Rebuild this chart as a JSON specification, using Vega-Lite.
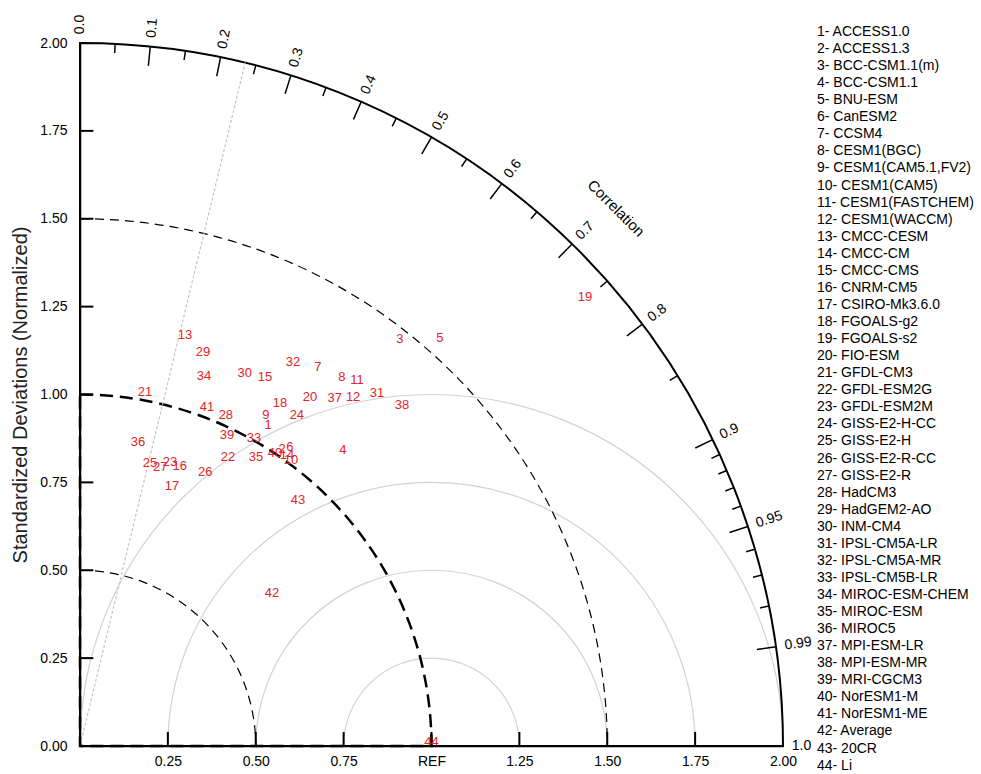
{
  "$schema": "https://vega.github.io/schema/vega-lite/v6.json",
  "width": 703,
  "height": 703,
  "autosize": "none",
  "padding": {"left": 80, "top": 43, "right": 198, "bottom": 28},
  "config": {"view": {"stroke": null}, "font": "Liberation Sans"},
  "datasets": {
    "models": [
      {"id": 1, "legend": "1- ACCESS1.0", "x": 0.535, "y": 0.913},
      {"id": 2, "legend": "2- ACCESS1.3", "x": 0.575, "y": 0.845},
      {"id": 3, "legend": "3- BCC-CSM1.1(m)", "x": 0.910, "y": 1.158},
      {"id": 4, "legend": "4- BCC-CSM1.1", "x": 0.748, "y": 0.842},
      {"id": 5, "legend": "5- BNU-ESM", "x": 1.024, "y": 1.161},
      {"id": 6, "legend": "6- CanESM2", "x": 0.597, "y": 0.851},
      {"id": 7, "legend": "7- CCSM4", "x": 0.677, "y": 1.078},
      {"id": 8, "legend": "8- CESM1(BGC)", "x": 0.745, "y": 1.050},
      {"id": 9, "legend": "9- CESM1(CAM5.1,FV2)", "x": 0.529, "y": 0.942},
      {"id": 10, "legend": "10- CESM1(CAM5)", "x": 0.600, "y": 0.814},
      {"id": 11, "legend": "11- CESM1(FASTCHEM)", "x": 0.788, "y": 1.041},
      {"id": 12, "legend": "12- CESM1(WACCM)", "x": 0.777, "y": 0.993},
      {"id": 13, "legend": "13- CMCC-CESM", "x": 0.299, "y": 1.169},
      {"id": 14, "legend": "14- CMCC-CM", "x": 0.589, "y": 0.828},
      {"id": 15, "legend": "15- CMCC-CMS", "x": 0.526, "y": 1.050},
      {"id": 16, "legend": "16- CNRM-CM5", "x": 0.284, "y": 0.797},
      {"id": 17, "legend": "17- CSIRO-Mk3.6.0", "x": 0.262, "y": 0.740},
      {"id": 18, "legend": "18- FGOALS-g2", "x": 0.569, "y": 0.976},
      {"id": 19, "legend": "19- FGOALS-s2", "x": 1.437, "y": 1.277},
      {"id": 20, "legend": "20- FIO-ESM", "x": 0.654, "y": 0.993},
      {"id": 21, "legend": "21- GFDL-CM3", "x": 0.185, "y": 1.007},
      {"id": 22, "legend": "22- GFDL-ESM2G", "x": 0.421, "y": 0.822},
      {"id": 23, "legend": "23- GFDL-ESM2M", "x": 0.256, "y": 0.808},
      {"id": 24, "legend": "24- GISS-E2-H-CC", "x": 0.617, "y": 0.942},
      {"id": 25, "legend": "25- GISS-E2-H", "x": 0.199, "y": 0.805},
      {"id": 26, "legend": "26- GISS-E2-R-CC", "x": 0.356, "y": 0.780},
      {"id": 27, "legend": "27- GISS-E2-R", "x": 0.228, "y": 0.794},
      {"id": 28, "legend": "28- HadCM3", "x": 0.415, "y": 0.942},
      {"id": 29, "legend": "29- HadGEM2-AO", "x": 0.350, "y": 1.121},
      {"id": 30, "legend": "30- INM-CM4", "x": 0.469, "y": 1.061},
      {"id": 31, "legend": "31- IPSL-CM5A-LR", "x": 0.845, "y": 1.004},
      {"id": 32, "legend": "32- IPSL-CM5A-MR", "x": 0.606, "y": 1.092},
      {"id": 33, "legend": "33- IPSL-CM5B-LR", "x": 0.495, "y": 0.876},
      {"id": 34, "legend": "34- MIROC-ESM-CHEM", "x": 0.353, "y": 1.053},
      {"id": 35, "legend": "35- MIROC-ESM", "x": 0.501, "y": 0.822},
      {"id": 36, "legend": "36- MIROC5", "x": 0.165, "y": 0.865},
      {"id": 37, "legend": "37- MPI-ESM-LR", "x": 0.725, "y": 0.990},
      {"id": 38, "legend": "38- MPI-ESM-MR", "x": 0.916, "y": 0.970},
      {"id": 39, "legend": "39- MRI-CGCM3", "x": 0.418, "y": 0.885},
      {"id": 40, "legend": "40- NorESM1-M", "x": 0.555, "y": 0.834},
      {"id": 41, "legend": "41- NorESM1-ME", "x": 0.361, "y": 0.964},
      {"id": 42, "legend": "42- Average", "x": 0.546, "y": 0.435},
      {"id": 43, "legend": "43- 20CR", "x": 0.620, "y": 0.700},
      {"id": 44, "legend": "44- Li", "x": 1.0, "y": 0.012}
    ],
    "stdTicks": [
      {"s": 0.25}, {"s": 0.5}, {"s": 0.75}, {"s": 1.0}, {"s": 1.25}, {"s": 1.5}, {"s": 1.75}
    ],
    "ticksMajor": [
      {"c": 0.1}, {"c": 0.2}, {"c": 0.3}, {"c": 0.4}, {"c": 0.5}, {"c": 0.6}, {"c": 0.7}, {"c": 0.8}, {"c": 0.9}, {"c": 0.95}, {"c": 0.99}
    ],
    "ticksMinor": [
      {"c": 0.05}, {"c": 0.15}, {"c": 0.25}, {"c": 0.35}, {"c": 0.45}, {"c": 0.55}, {"c": 0.65}, {"c": 0.75}, {"c": 0.85},
      {"c": 0.91}, {"c": 0.92}, {"c": 0.93}, {"c": 0.94}, {"c": 0.96}, {"c": 0.97}, {"c": 0.98}
    ],
    "corrLabels": [
      {"c": 0.0, "lab": "0.0"}, {"c": 0.1, "lab": "0.1"}, {"c": 0.2, "lab": "0.2"}, {"c": 0.3, "lab": "0.3"},
      {"c": 0.4, "lab": "0.4"}, {"c": 0.5, "lab": "0.5"}, {"c": 0.6, "lab": "0.6"}, {"c": 0.7, "lab": "0.7"},
      {"c": 0.8, "lab": "0.8"}, {"c": 0.9, "lab": "0.9"}, {"c": 0.95, "lab": "0.95"}, {"c": 0.99, "lab": "0.99"},
      {"c": 1.0, "lab": "1.0"}
    ]
  },
  "layer": [
    {
      "data": {"values": [{"r": 0.25}, {"r": 0.5}, {"r": 0.75}, {"r": 1.0}]},
      "mark": {"type": "arc", "theta": -1.5707963, "theta2": 1.5707963, "filled": false, "stroke": "#d2d2d2", "strokeWidth": 1.2},
      "encoding": {
        "x": {"datum": 1, "type": "quantitative", "scale": {"domain": [0, 2], "nice": false, "zero": false},
          "axis": {"values": [0.25, 0.5, 0.75, 1, 1.25, 1.5, 1.75, 2], "labelExpr": "datum.value == 1 ? 'REF' : format(datum.value, '.2f')", "ticks": false, "domain": true, "domainColor": "black", "domainWidth": 1.5, "labelFontSize": 14, "labelColor": "black", "labelFont": "Liberation Sans", "labelPadding": 8, "labelFlush": false, "labelOverlap": false, "grid": false, "title": null, "zindex": 1}},
        "y": {"datum": 0, "type": "quantitative", "scale": {"domain": [0, 2], "nice": false, "zero": false},
          "axis": {"values": [0, 0.25, 0.5, 0.75, 1, 1.25, 1.5, 1.75, 2], "format": ".2f", "ticks": false, "domain": true, "domainColor": "black", "domainWidth": 1.5, "labelFontSize": 14, "labelColor": "black", "labelFont": "Liberation Sans", "labelPadding": 13, "labelFlush": false, "labelOverlap": false, "grid": false, "zindex": 1, "title": "Standardized Deviations (Normalized)", "titleFontSize": 20, "titleFontWeight": "normal", "titleColor": "#222222", "titleFont": "Liberation Sans", "titlePadding": 9}},
        "radius": {"field": "r", "type": "quantitative", "stack": null, "scale": {"type": "linear", "domain": [0, 2], "range": [0, 703], "zero": false}}
      }
    },
    {
      "data": {"values": [{"r": 0.5}, {"r": 1.5}]},
      "mark": {"type": "arc", "theta": 0, "theta2": 1.5707963, "filled": false, "stroke": "black", "strokeWidth": 1.2, "strokeDash": [9, 6]},
      "encoding": {
        "x": {"datum": 0, "type": "quantitative"},
        "y": {"datum": 0, "type": "quantitative"},
        "radius": {"field": "r", "type": "quantitative", "stack": null, "scale": {"type": "linear", "domain": [0, 2], "range": [0, 703], "zero": false}}
      }
    },
    {
      "data": {"values": [{"r": 1.0}]},
      "mark": {"type": "arc", "theta": 0, "theta2": 1.5707963, "filled": false, "stroke": "black", "strokeWidth": 2.5, "strokeDash": [13, 7]},
      "encoding": {
        "x": {"datum": 0, "type": "quantitative"},
        "y": {"datum": 0, "type": "quantitative"},
        "radius": {"field": "r", "type": "quantitative", "stack": null, "scale": {"type": "linear", "domain": [0, 2], "range": [0, 703], "zero": false}}
      }
    },
    {
      "data": {"values": [{"r": 2.0}]},
      "mark": {"type": "arc", "theta": 0, "theta2": 1.5707963, "filled": false, "stroke": "black", "strokeWidth": 2},
      "encoding": {
        "x": {"datum": 0, "type": "quantitative"},
        "y": {"datum": 0, "type": "quantitative"},
        "radius": {"field": "r", "type": "quantitative", "stack": null, "scale": {"type": "linear", "domain": [0, 2], "range": [0, 703], "zero": false}}
      }
    },
    {
      "data": {"values": [{"c": 0.235, "r": 2.0}]},
      "transform": [{"calculate": "asin(datum.c)", "as": "t"}],
      "mark": {"type": "arc", "filled": false, "stroke": "#c4c4c4", "strokeWidth": 1.2, "strokeDash": [2, 3]},
      "encoding": {
        "x": {"datum": 0, "type": "quantitative"},
        "y": {"datum": 0, "type": "quantitative"},
        "theta": {"field": "t", "type": "quantitative", "stack": null, "scale": null},
        "theta2": {"field": "t"},
        "radius": {"field": "r", "type": "quantitative", "stack": null, "scale": {"type": "linear", "domain": [0, 2], "range": [0, 703], "zero": false}}
      }
    },
    {
      "data": {"values": [{"a": 0}]},
      "mark": {"type": "rule", "color": "black", "strokeWidth": 1.5},
      "encoding": {
        "x": {"datum": 0, "type": "quantitative"},
        "x2": {"datum": 2},
        "y": {"datum": 0, "type": "quantitative"}
      }
    },
    {
      "data": {"values": [{"a": 0}]},
      "mark": {"type": "rule", "color": "black", "strokeWidth": 1.5},
      "encoding": {
        "x": {"datum": 0, "type": "quantitative"},
        "y": {"datum": 0, "type": "quantitative"},
        "y2": {"datum": 2}
      }
    },
    {
      "data": {"name": "stdTicks"},
      "mark": {"type": "rule", "color": "black", "strokeWidth": 2},
      "encoding": {
        "x": {"field": "s", "type": "quantitative"},
        "y": {"datum": 0, "type": "quantitative"},
        "y2": {"datum": 0.04}
      }
    },
    {
      "data": {"name": "stdTicks"},
      "mark": {"type": "rule", "color": "black", "strokeWidth": 2},
      "encoding": {
        "x": {"datum": 0, "type": "quantitative"},
        "x2": {"datum": 0.038},
        "y": {"field": "s", "type": "quantitative"}
      }
    },
    {
      "data": {"name": "ticksMajor"},
      "transform": [{"calculate": "asin(datum.c)", "as": "t"}],
      "mark": {"type": "arc", "filled": false, "stroke": "black", "strokeWidth": 1.5},
      "encoding": {
        "x": {"datum": 0, "type": "quantitative"},
        "y": {"datum": 0, "type": "quantitative"},
        "theta": {"field": "t", "type": "quantitative", "stack": null, "scale": null},
        "theta2": {"field": "t"},
        "radius": {"datum": 2.0, "type": "quantitative", "scale": {"type": "linear", "domain": [0, 2], "range": [0, 703], "zero": false}},
        "radius2": {"datum": 1.945}
      }
    },
    {
      "data": {"name": "ticksMinor"},
      "transform": [{"calculate": "asin(datum.c)", "as": "t"}],
      "mark": {"type": "arc", "filled": false, "stroke": "black", "strokeWidth": 1.5},
      "encoding": {
        "x": {"datum": 0, "type": "quantitative"},
        "y": {"datum": 0, "type": "quantitative"},
        "theta": {"field": "t", "type": "quantitative", "stack": null, "scale": null},
        "theta2": {"field": "t"},
        "radius": {"datum": 2.0, "type": "quantitative", "scale": {"type": "linear", "domain": [0, 2], "range": [0, 703], "zero": false}},
        "radius2": {"datum": 1.974}
      }
    },
    {
      "data": {"name": "corrLabels"},
      "transform": [
        {"calculate": "asin(datum.c)", "as": "t"},
        {"calculate": "-acos(datum.c) * 180 / PI", "as": "a"}
      ],
      "mark": {"type": "text", "align": "left", "baseline": "middle", "fontSize": 14, "font": "Liberation Sans", "color": "black"},
      "encoding": {
        "x": {"datum": 0, "type": "quantitative"},
        "y": {"datum": 0, "type": "quantitative"},
        "theta": {"field": "t", "type": "quantitative", "stack": null, "scale": null},
        "radius": {"datum": 2.025, "type": "quantitative", "scale": {"type": "linear", "domain": [0, 2], "range": [0, 703], "zero": false}},
        "angle": {"field": "a", "type": "quantitative", "scale": null},
        "text": {"field": "lab"}
      }
    },
    {
      "data": {"values": [{"c": 0.706, "lab": "Correlation"}]},
      "transform": [
        {"calculate": "asin(datum.c)", "as": "t"},
        {"calculate": "90 - acos(datum.c) * 180 / PI", "as": "a"}
      ],
      "mark": {"type": "text", "align": "center", "baseline": "middle", "fontSize": 15, "font": "Liberation Sans", "color": "black"},
      "encoding": {
        "x": {"datum": 0, "type": "quantitative"},
        "y": {"datum": 0, "type": "quantitative"},
        "theta": {"field": "t", "type": "quantitative", "stack": null, "scale": null},
        "radius": {"datum": 2.16, "type": "quantitative", "scale": {"type": "linear", "domain": [0, 2], "range": [0, 703], "zero": false}},
        "angle": {"field": "a", "type": "quantitative", "scale": null},
        "text": {"field": "lab"}
      }
    },
    {
      "data": {"name": "models"},
      "mark": {"type": "text", "align": "center", "baseline": "middle", "fontSize": 13, "font": "Liberation Sans"},
      "encoding": {
        "x": {"field": "x", "type": "quantitative", "title": null},
        "y": {"field": "y", "type": "quantitative", "title": "Standardized Deviations (Normalized)"},
        "text": {"field": "id"},
        "color": {
          "field": "legend", "type": "nominal",
          "sort": {"field": "id", "op": "min"},
          "scale": {"range": ["#e52326"]},
          "legend": {
            "orient": "none", "legendX": 723, "legendY": -18, "title": null,
            "symbolSize": 0, "symbolOpacity": 0, "symbolStrokeWidth": 0,
            "labelOffset": 0, "labelFontSize": 14, "labelFont": "Liberation Sans", "labelColor": "black",
            "rowPadding": 3.06, "labelLimit": 300, "symbolLimit": 100, "padding": 0
          }
        }
      }
    }
  ]
}
